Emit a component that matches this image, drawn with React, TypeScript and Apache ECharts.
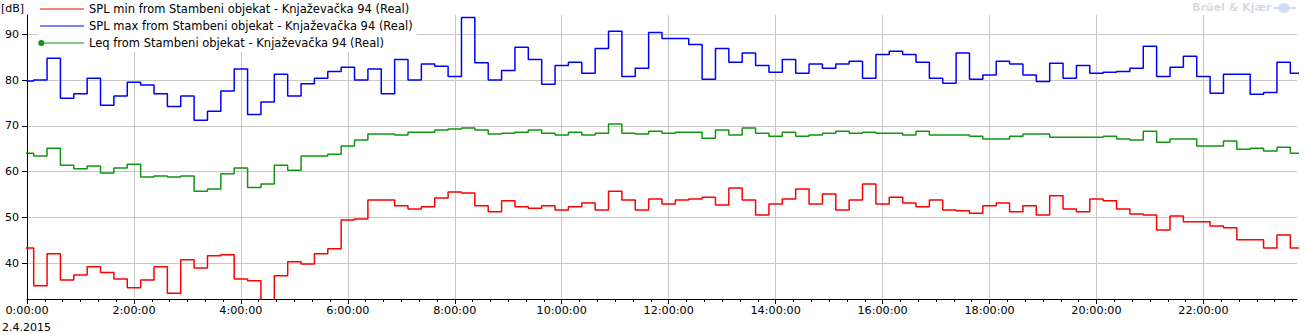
import { useEffect, useRef } from 'react';
import * as echarts from 'echarts';

const seriesNames = [
  'SPL min from Stambeni objekat - Knjaževačka 94 (Real)',
  'SPL max from Stambeni objekat - Knjaževačka 94 (Real)',
  'Leq from Stambeni objekat - Knjaževačka 94 (Real)',
];

// 15-minute intervals; first interval starts 7.5 min before midnight
const FIRST_START_MIN = -7.5;
const STEP_MIN = 15;

const splMin = [
  43.3, 35.0, 42.0, 36.3, 37.4, 39.2, 37.9, 36.5, 34.6, 36.3, 39.2, 33.4, 40.7, 38.9,
  41.6, 41.8, 36.5, 36.1, 30.5, 37.2, 40.3, 39.8, 42.0, 43.1, 49.4, 49.6, 53.8, 53.8,
  52.5, 51.8, 52.3, 54.2, 55.5, 55.3, 52.5, 51.2, 53.6, 52.3, 52.0, 52.5, 51.6, 52.3,
  53.1, 51.6, 55.7, 53.8, 51.6, 54.0, 52.9, 53.8, 54.0, 54.4, 52.7, 56.4, 53.8, 50.5,
  52.9, 54.0, 56.2, 52.9, 55.1, 51.6, 53.8, 57.3, 52.9, 54.4, 53.1, 52.3, 53.8, 51.6,
  51.4, 50.9, 52.5, 53.1, 51.2, 52.5, 50.5, 54.7, 51.8, 51.2, 54.0, 53.6, 51.8, 50.7,
  50.5, 47.2, 50.3, 49.0, 49.0, 48.1, 47.7, 45.1, 45.1, 43.3, 46.1, 43.3,
];

const splMax = [
  79.8, 80.0, 84.8, 76.0, 77.0, 80.4, 74.5, 76.5, 79.5, 78.9, 77.0, 74.2, 76.5, 71.2,
  73.2, 77.6, 82.4, 72.5, 75.2, 81.3, 76.5, 79.2, 80.4, 81.9, 82.8, 80.0, 82.4, 77.0,
  84.5, 80.0, 83.5, 83.0, 80.8, 93.7, 83.8, 80.0, 82.1, 87.2, 84.5, 79.1, 83.2, 83.9,
  81.5, 86.9, 90.7, 80.8, 82.6, 90.4, 89.1, 89.1, 87.8, 80.2, 86.9, 83.9, 85.9, 83.2,
  81.7, 84.5, 81.5, 83.5, 82.6, 83.5, 84.1, 80.4, 85.6, 86.3, 85.6, 83.9, 80.4, 79.3,
  85.9, 80.2, 81.1, 84.1, 83.5, 81.1, 79.7, 83.7, 80.4, 83.2, 81.5, 81.7, 81.9, 82.6,
  87.4, 80.8, 82.8, 85.2, 80.8, 77.1, 81.3, 81.3, 76.9, 77.3, 83.9, 81.5,
];

const leq = [
  64.0, 63.4, 65.1, 61.4, 60.6, 61.2, 59.7, 60.8, 61.6, 58.8, 59.0, 58.8, 59.0, 55.7,
  56.2, 59.5, 60.8, 56.5, 57.3, 61.4, 60.3, 63.4, 63.4, 63.8, 65.6, 66.9, 68.2, 68.2,
  68.0, 68.6, 68.6, 69.1, 69.3, 69.5, 69.1, 68.2, 68.4, 68.6, 69.1, 68.4, 68.0, 68.6,
  68.0, 68.4, 70.4, 68.4, 68.2, 68.8, 68.4, 68.6, 68.6, 67.3, 69.1, 68.0, 69.5, 68.4,
  67.7, 68.6, 67.7, 68.0, 68.4, 68.8, 68.4, 68.6, 68.4, 68.4, 68.0, 68.8, 68.0, 68.0,
  68.0, 67.7, 67.1, 67.1, 67.7, 68.2, 68.2, 67.5, 67.5, 67.5, 67.5, 67.7, 67.1, 66.9,
  68.8, 66.4, 67.1, 67.1, 65.6, 65.6, 66.7, 64.9, 65.1, 64.5, 65.3, 64.0,
];

const X_MIN = 0;
const X_MAX = 1425;
const xMajorTicks = [0, 120, 240, 360, 480, 600, 720, 840, 960, 1080, 1200, 1320];
const xMinorTicks = Array.from({ length: 72 }, (_, i) => i * 20);
const Y_MIN = 32.13;
const Y_MAX = 94.23;
const yTicks = [40, 50, 60, 70, 80, 90];
const unitLabel = '[dB]';
const dateLabel = '2.4.2015';
const brandLabel = 'Brüel & Kjær';

const colors = ['#ff0000', '#0000ff', '#119611'];
const FONT = 'DejaVu Sans';

function toSteps(values: number[]) {
  const pts: number[][] = values.map((v, i) => [FIRST_START_MIN + i * STEP_MIN, v]);
  pts.push([FIRST_START_MIN + values.length * STEP_MIN, values[values.length - 1]]);
  return pts;
}

function fmtTime(m: number) {
  const h = Math.floor(m / 60);
  const mm = Math.round(m % 60);
  return `${h}:${String(mm).padStart(2, '0')}:00`;
}

const lineIcon = 'path://M0,0M46,14M2,6.5H46V7.5H2Z';
const dotIcon = 'path://M0,0M46,14M3.3,6.5H46V7.5H3.3Z M0.3,7A3,3 0 1 1 6.3,7A3,3 0 1 1 0.3,7Z';

export default function App() {
  const ref = useRef<HTMLDivElement>(null);
  useEffect(() => {
    if (!ref.current) return;
    const chart = echarts.init(ref.current, undefined, { renderer: 'svg' });
    const data = [splMin, splMax, leq];
    chart.setOption({
      animation: false,
      backgroundColor: '#ffffff',
      textStyle: { fontFamily: FONT },
      grid: { left: 27, right: 8, top: 15, bottom: 35 },
      legend: {
        orient: 'vertical',
        left: 38,
        top: 0,
        padding: [2, 4, 2, 0],
        itemWidth: 46,
        itemHeight: 14,
        itemGap: 3,
        backgroundColor: '#ffffff',
        selectedMode: false,
        textStyle: { fontFamily: FONT, fontSize: 11.5, color: '#000', lineHeight: 14 },
        itemStyle: { borderWidth: 0 },
        data: [
          { name: seriesNames[0], icon: lineIcon },
          { name: seriesNames[1], icon: lineIcon },
          { name: seriesNames[2], icon: dotIcon },
        ],
      },
      xAxis: [
        {
          type: 'value',
          min: X_MIN,
          max: X_MAX,
          interval: 120,
          axisLine: { show: true, onZero: false, lineStyle: { color: '#000', width: 1 } },
          axisTick: { show: true, length: 5, customValues: xMajorTicks, lineStyle: { color: '#000' } },
          axisLabel: {
            customValues: xMajorTicks,
            formatter: (v: number) => fmtTime(v),
            color: '#000',
            fontFamily: FONT,
            fontSize: 11.2,
            margin: 6,
          },
          splitLine: { show: true, lineStyle: { color: '#c8c8c8', width: 1 } },
        },
        {
          type: 'value',
          min: X_MIN,
          max: X_MAX,
          position: 'bottom',
          axisLine: { show: false },
          axisTick: { show: true, length: 3, customValues: xMinorTicks, lineStyle: { color: '#000' } },
          axisLabel: { show: false },
          splitLine: { show: false },
        },
      ],
      yAxis: {
        type: 'value',
        min: Y_MIN,
        max: Y_MAX,
        minInterval: 10,
        maxInterval: 10,
        axisLine: { show: true, lineStyle: { color: '#000', width: 1 } },
        axisTick: { show: true, length: 5, customValues: yTicks, lineStyle: { color: '#000' } },
        axisLabel: {
          customValues: yTicks,
          color: '#000',
          fontFamily: FONT,
          fontSize: 11,
          margin: 8,
        },
        splitLine: { show: true, lineStyle: { color: '#c8c8c8', width: 1 } },
      },
      series: data.map((vals, i) => ({
        name: seriesNames[i],
        type: 'line',
        step: 'end',
        xAxisIndex: 0,
        showSymbol: false,
        symbol: 'none',
        color: colors[i],
        lineStyle: { color: colors[i], width: 1.5 },
        emphasis: { disabled: true },
        data: toSteps(vals),
      })),
      graphic: [
        {
          type: 'text',
          left: 1,
          top: 3,
          style: { text: unitLabel, fontFamily: FONT, fontSize: 11, fill: '#000' },
        },
        {
          type: 'text',
          left: 2,
          top: 322,
          style: { text: dateLabel, fontFamily: FONT, fontSize: 11, fill: '#000' },
        },
        {
          type: 'text',
          left: 1192,
          top: 2,
          style: { text: brandLabel, fontFamily: FONT, fontSize: 11, fontWeight: 'bold', fill: '#d6dbe1' },
        },
        {
          type: 'ellipse',
          shape: { cx: 1284, cy: 8, rx: 6, ry: 5 },
          style: { fill: '#cfe0f5' },
        },
        {
          type: 'line',
          shape: { x1: 1273, y1: 8, x2: 1296, y2: 8 },
          style: { stroke: '#cfe0f5', lineWidth: 2 },
        },
      ],
    });
    return () => chart.dispose();
  }, []);
  return (
    <div
      ref={ref}
      style={{ position: 'fixed', left: 0, top: 0, width: 1305, height: 334, background: '#fff' }}
    />
  );
}
